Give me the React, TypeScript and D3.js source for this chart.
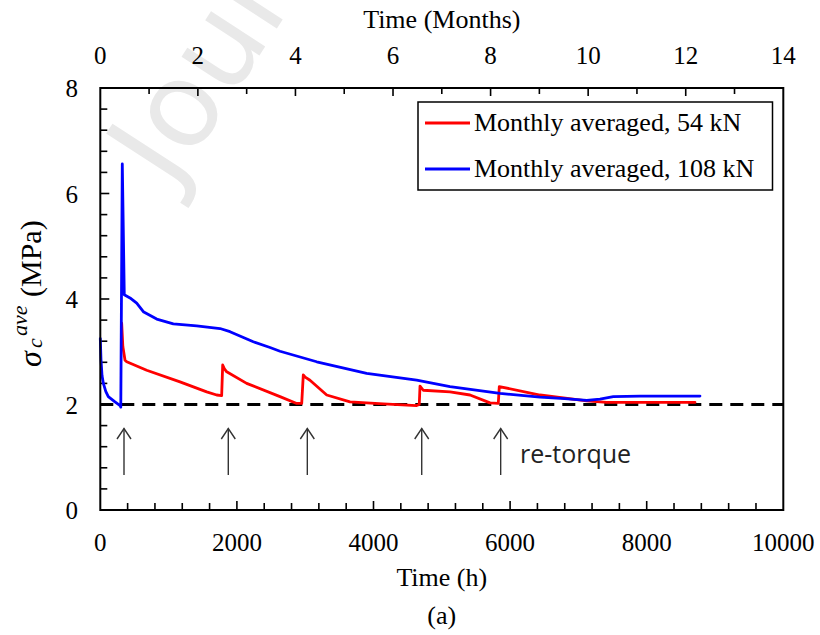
import React from "react";
import * as d3 from "d3";

// ---- data ----
const hours108 = [0, 10, 25, 45, 80, 117, 215, 290, 300, 322, 351, 435, 533, 630, 826, 1069, 1411, 1753, 1899, 2240, 2485, 2631, 3168, 3900, 4632, 5120, 5852, 6438, 6800, 7122, 7316, 7511, 7902, 8780];
const values108 = [3.25, 2.85, 2.55, 2.4, 2.25, 2.15, 2.05, 1.98, 1.95, 6.56, 4.08, 4.02, 3.92, 3.76, 3.62, 3.53, 3.49, 3.44, 3.38, 3.19, 3.08, 3.01, 2.81, 2.59, 2.46, 2.34, 2.21, 2.14, 2.11, 2.08, 2.1, 2.15, 2.16, 2.16];

const hours54 = [313, 330, 362, 387, 679, 1167, 1558, 1704, 1777, 1792, 1815, 1851, 2143, 2631, 2876, 2949, 2972, 3000, 3070, 3315, 3656, 4143, 4632, 4670, 4681, 4729, 5120, 5413, 5706, 5827, 5842, 6438, 7122, 7414, 8707];
const values54 = [3.54, 3.1, 2.84, 2.81, 2.65, 2.43, 2.24, 2.18, 2.17, 2.75, 2.68, 2.62, 2.4, 2.15, 2.02, 2.02, 2.56, 2.52, 2.46, 2.18, 2.05, 2.01, 1.98, 2.0, 2.35, 2.27, 2.24, 2.18, 2.03, 2.02, 2.34, 2.18, 2.07, 2.04, 2.04];

const retorqueTimes = [347, 1874, 3031, 4706, 5862];
const thresholdValue = 2;

const xTickLabels = [0, 2000, 4000, 6000, 8000, 10000];
const monthTickLabels = [0, 2, 4, 6, 8, 10, 12, 14];
const yTickLabels = [0, 2, 4, 6, 8];

const seriesNames = ["Monthly averaged, 54 kN", "Monthly averaged, 108 kN"];
const seriesColors = ["#ff0000", "#0000ff"];

// ---- layout ----
const W = 820;
const H = 635;
const L = 100.3, R = 783.3, T = 88, B = 510;
const serif = "'Liberation Serif', 'Times New Roman', serif";

export default function App() {
  const x = d3.scaleLinear().domain([0, 10000]).range([L, R]);
  const xm = d3.scaleLinear().domain([0, 14]).range([L, R]);
  const y = d3.scaleLinear().domain([0, 8]).range([B, T]);

  const line = d3
    .line<[number, number]>()
    .x((d) => x(d[0]))
    .y((d) => y(d[1]));

  const red = line(hours54.map((h, i) => [h, values54[i]]) as [number, number][]) || "";
  const blue = line(hours108.map((h, i) => [h, values108[i]]) as [number, number][]) || "";

  const xMinor = d3.range(400, 10000, 400);
  const yMinor = d3.range(0.4, 8, 0.4);
  const mMinor = d3.range(1, 14, 1);

  return (
    <svg
      width={W}
      height={H}
      viewBox={`0 0 ${W} ${H}`}
      style={{ position: "absolute", left: 0, top: 0, background: "#fff" }}
    >
      <rect x={0} y={0} width={W} height={H} fill="#fff" />
      {/* watermark */}
      <text
        transform="translate(172,190) rotate(-57)"
        fontFamily="'DejaVu Sans', sans-serif"
        fontSize={118}
        fill="#e9e9e9"
      >
        Journal
      </text>

      {/* top month axis ticks */}
      {mMinor.map((m) => (
        <line key={"mt" + m} x1={xm(m)} x2={xm(m)} y1={T} y2={T + (m % 2 === 0 ? 8 : 6)} stroke="#000" strokeWidth={1.6} />
      ))}
      {monthTickLabels.map((m) => (
        <text key={"ml" + m} x={xm(m)} y={64} textAnchor="middle" fontFamily={serif} fontSize={25}>
          {m}
        </text>
      ))}
      <text x={(L + R) / 2} y={28} textAnchor="middle" fontFamily={serif} fontSize={26}>
        Time (Months)
      </text>

      {/* bottom ticks */}
      {xMinor.map((t) => (
        <line key={"xt" + t} x1={x(t)} x2={x(t)} y1={B} y2={B - (t % 2000 === 0 ? 9 : 7)} stroke="#000" strokeWidth={1.6} />
      ))}
      {xTickLabels.map((t) => (
        <text key={"xl" + t} x={x(t)} y={551} textAnchor="middle" fontFamily={serif} fontSize={25}>
          {t}
        </text>
      ))}
      <text x={(L + R) / 2} y={586} textAnchor="middle" fontFamily={serif} fontSize={26}>
        Time (h)
      </text>
      <text x={(L + R) / 2} y={624} textAnchor="middle" fontFamily={serif} fontSize={26}>
        (a)
      </text>

      {/* left ticks */}
      {yMinor.map((v) => (
        <line
          key={"yt" + v}
          x1={L}
          x2={L + (Math.abs(v / 2 - Math.round(v / 2)) < 1e-6 ? 9 : 7)}
          y1={y(v)}
          y2={y(v)}
          stroke="#000"
          strokeWidth={1.6}
        />
      ))}
      {yTickLabels.map((v) => (
        <text key={"yl" + v} x={78} y={y(v) + 9} textAnchor="end" fontFamily={serif} fontSize={25}>
          {v}
        </text>
      ))}

      {/* y title */}
      <g transform="translate(41,367) rotate(-90)">
        <text fontFamily={serif} fontSize={32} fontStyle="italic" x={0} y={0}>
          σ
        </text>
        <text fontFamily={serif} fontSize={22} fontStyle="italic" x={19} y={1}>
          c
        </text>
        <text fontFamily={serif} fontSize={22} fontStyle="italic" x={31} y={-14}>
          ave
        </text>
        <text fontFamily={serif} fontSize={30} x={70} y={0}>
          (MPa)
        </text>
      </g>

      {/* threshold */}
      <line
        x1={L}
        x2={R}
        y1={y(thresholdValue)}
        y2={y(thresholdValue)}
        stroke="#000"
        strokeWidth={3}
        strokeDasharray="13 8"
      />

      {/* series */}
      <path d={red} fill="none" stroke={seriesColors[0]} strokeWidth={2.8} strokeLinejoin="round" strokeLinecap="round" />
      <path d={blue} fill="none" stroke={seriesColors[1]} strokeWidth={2.8} strokeLinejoin="round" strokeLinecap="round" />

      {/* arrows */}
      {retorqueTimes.map((t) => (
        <g key={"ar" + t} stroke="#333" strokeWidth={1.4} fill="none">
          <line x1={x(t)} x2={x(t)} y1={475} y2={428.5} />
          <polyline points={`${x(t) - 7},${439} ${x(t)},${428.5} ${x(t) + 7},${439}`} />
        </g>
      ))}
      <text x={520} y={463} fontFamily="'Open Sans', sans-serif" fontSize={25} fill="#222">
        re-torque
      </text>

      {/* legend */}
      <rect x={418} y={102} width={354.5} height={88} fill="#fff" stroke="#000" strokeWidth={1.5} />
      {seriesNames.map((n, i) => (
        <g key={n}>
          <line x1={425} x2={470} y1={123 + i * 46} y2={123 + i * 46} stroke={seriesColors[i]} strokeWidth={2.8} />
          <text x={474} y={131 + i * 46} fontFamily={serif} fontSize={26}>
            {n}
          </text>
        </g>
      ))}

      {/* frame */}
      <rect x={L} y={T} width={R - L} height={B - T} fill="none" stroke="#000" strokeWidth={2} />
    </svg>
  );
}
